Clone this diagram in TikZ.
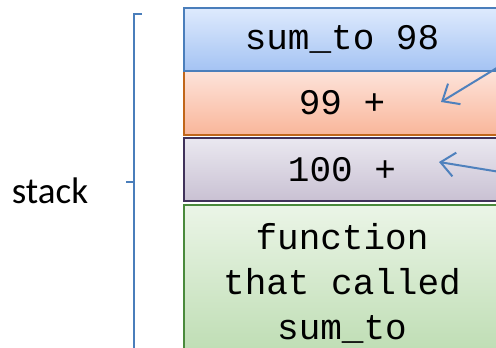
\documentclass[tikz,border=0pt]{standalone}
\usepackage{fontspec}
\setmonofont{Liberation Mono}
\setsansfont{Carlito}
\usetikzlibrary{arrows.meta}

\definecolor{frameBlue}{HTML}{4A7EBB}
\definecolor{frameOrange}{HTML}{C0661A}
\definecolor{framePurple}{HTML}{40325A}
\definecolor{frameGreen}{HTML}{4A8A3C}
\definecolor{arrowBlue}{HTML}{4F81BD}
\definecolor{blueTop}{HTML}{DEEAFD}
\definecolor{blueBot}{HTML}{A4C3F3}
\definecolor{orangeTop}{HTML}{FDE3DA}
\definecolor{orangeBot}{HTML}{F9B69A}
\definecolor{purpleTop}{HTML}{EAE8F0}
\definecolor{purpleBot}{HTML}{C9C1D3}
\definecolor{greenTop}{HTML}{EBF5E7}
\definecolor{greenBot}{HTML}{BCDCB1}

\tikzstyle{frameBox}=[draw,line width=1.5pt,minimum width=316pt,inner sep=0pt,align=center,text=black,font=\ttfamily\fontsize{36}{45}\selectfont]
\tikzstyle{returnArrow}=[-{Straight Barb[length=14pt,width=24pt,line width=2pt]}, line width=2pt, arrowBlue]

\begin{document}
\begin{tikzpicture}[x=1pt,y=-1pt]
		\useasboundingbox (0,0) rectangle (496,348);
		\clip (0,0) rectangle (496,348);
		
		\node[frameBox,draw=frameGreen,minimum height=156pt,top color=greenTop,bottom color=greenBot] (caller) at (342,283) {function\\that called\\sum\_to};
		\node[frameBox,draw=framePurple,minimum height=63pt,top color=purpleTop,bottom color=purpleBot] (f100) at (342,169.5) {100 +};
		\node[frameBox,draw=frameOrange,minimum height=64pt,top color=orangeTop,bottom color=orangeBot] (f99) at (342,103) {99 +};
		\node[frameBox,draw=frameBlue,minimum height=63pt,top color=blueTop,bottom color=blueBot] (f98) at (342,39.5) {sum\_to 98};
		
		\node[font=\sffamily\fontsize{37}{40}\selectfont] (stack) at (50,191) {stack};
		
		% bracket round the frames
		\coordinate (brTop) at (134,14);
		\coordinate (brMid) at (134,182);
		\coordinate (brEnd) at (134,360);
		\draw[frameBlue,line width=2pt] ([xshift=8pt]brTop) -- (brTop) -- (brEnd);
		\draw[frameBlue,line width=2pt] (brMid) -- ([xshift=-8pt]brMid);
		
		% return points
		\coordinate (from98) at (500,66);
		\coordinate (at99) at (441,102);
		\coordinate (from99) at (500,172);
		\coordinate (at100) at (439,162);
		\draw[returnArrow] (from98) -- (at99);
		\draw[returnArrow] (from99) -- (at100);
\end{tikzpicture}
\end{document}
